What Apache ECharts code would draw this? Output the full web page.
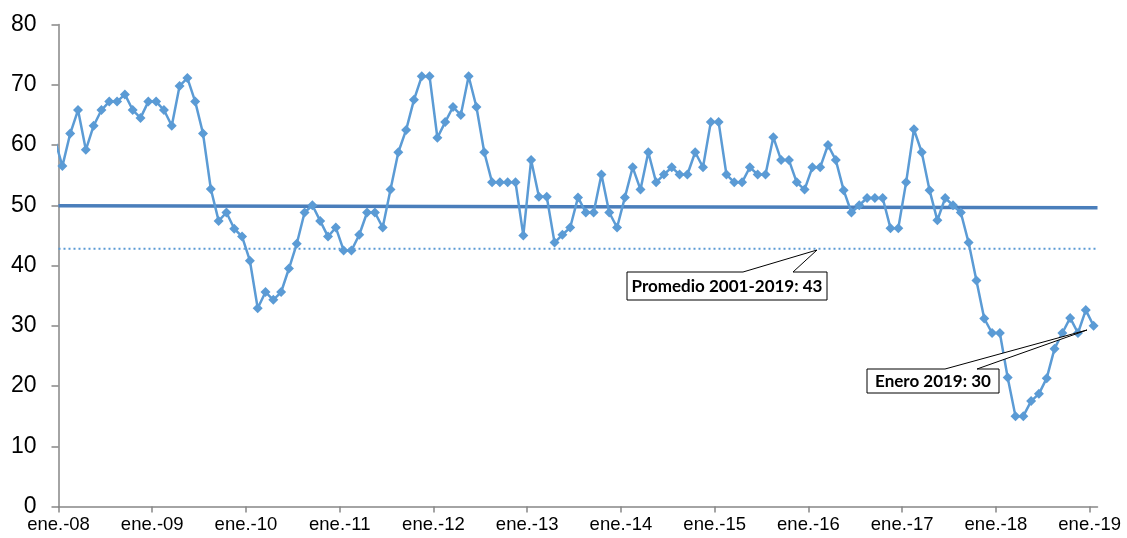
<!DOCTYPE html>
<html>
<head>
<meta charset="utf-8">
<script src="https://cdn.jsdelivr.net/npm/echarts@6/dist/echarts.min.js"></script>
<style>
  html, body { margin: 0; padding: 0; background: #fff; }
  #chart { width: 1127px; height: 538px; }
</style>
</head>
<body>
<div id="chart"></div>
<script>
// monthly values, ene.-08 .. ene.-19 (133 months)
var indexValues = [
  56.5, 61.9, 65.8, 59.2, 63.2, 65.8, 67.2, 67.2, 68.4, 65.8, 64.5, 67.2,
  67.2, 65.8, 63.2, 69.8, 71.1, 67.2, 61.9, 52.7, 47.4, 48.8, 46.1, 44.8,
  40.8, 32.9, 35.6, 34.3, 35.6, 39.5, 43.6, 48.8, 50.0, 47.4, 44.8, 46.3,
  42.5, 42.5, 45.1, 48.8, 48.8, 46.3, 52.6, 58.8, 62.5, 67.5, 71.4, 71.4,
  61.2, 63.8, 66.3, 65.0, 71.4, 66.3, 58.8, 53.8, 53.8, 53.8, 53.8, 45.0,
  57.5, 51.4, 51.4, 43.8, 45.1, 46.3, 51.3, 48.8, 48.8, 55.1, 48.8, 46.3,
  51.3, 56.3, 52.6, 58.8, 53.8, 55.1, 56.3, 55.1, 55.1, 58.8, 56.3, 63.8,
  63.8, 55.1, 53.8, 53.8, 56.3, 55.1, 55.1, 61.3, 57.5, 57.5, 53.8, 52.6,
  56.3, 56.3, 60.0, 57.5, 52.5, 48.8, 50.0, 51.2, 51.2, 51.2, 46.2, 46.2,
  53.8, 62.6, 58.8, 52.5, 47.5, 51.2, 50.0, 48.8, 43.8, 37.5, 31.2, 28.8,
  28.8, 21.4, 15.0, 15.0, 17.5, 18.7, 21.3, 26.2, 28.8, 31.3, 28.8, 32.6,
  30.0
];
// dic.-07, only the segment into the plot is visible
var prevValue = 61.0;
var tickLabels = ['ene.-08', 'ene.-09', 'ene.-10', 'ene.-11', 'ene.-12', 'ene.-13',
  'ene.-14', 'ene.-15', 'ene.-16', 'ene.-17', 'ene.-18', 'ene.-19'];
var trendValues = [49.9, 49.6];
var averageValue = 42.8;
var averageText = 'Promedio 2001-2019: 43';
var lastText = 'Enero 2019: 30';

var nMonths = indexValues.length;
var seriesData = [[-0.5, prevValue]];
for (var i = 0; i < nMonths; i++) {
  seriesData.push([i + 0.5, indexValues[i]]);
}
var tickValues = [];
for (var k = 0; k < tickLabels.length; k++) tickValues.push(k * 12);

var chart = echarts.init(document.getElementById('chart'), null, { renderer: 'canvas' });

function callout(box, base, tip, text) {
  // box: [x, y, w, h]; base: [x1, x2] on top edge; tip: [x, y]
  var x = box[0], y = box[1], w = box[2], h = box[3];
  return [
    {
      type: 'polygon', z: 100,
      shape: { points: [[x, y], [base[0], y], tip, [base[1], y], [x + w, y], [x + w, y + h], [x, y + h]] },
      style: { fill: '#fff', stroke: '#000', lineWidth: 1 }
    },
    {
      type: 'text', z: 101,
      x: x + w / 2, y: y + h / 2 + 1,
      style: {
        text: text, fill: '#000', align: 'center', verticalAlign: 'middle',
        font: 'bold 17px Lato, "Open Sans", sans-serif'
      }
    }
  ];
}

var option = {
  animation: false,
  backgroundColor: '#fff',
  grid: { left: 58.5, right: 29.5, top: 24.5, bottom: 31.5, containLabel: false },
  xAxis: {
    type: 'value',
    min: 0,
    max: nMonths,
    splitLine: { show: false },
    axisLine: { onZero: false, lineStyle: { color: '#868686', width: 1.5 } },
    axisTick: { length: 6, lineStyle: { color: '#868686', width: 1.5 }, customValues: tickValues },
    axisLabel: {
      customValues: tickValues,
      margin: 9,
      color: '#000',
      fontFamily: '"Liberation Sans", Arial, sans-serif',
      fontSize: 18.5,
      formatter: function (v) { return tickLabels[Math.round(v / 12)] || ''; }
    }
  },
  yAxis: {
    type: 'value',
    min: 0,
    max: 80,
    interval: 10,
    splitLine: { show: false },
    axisLine: { show: true, lineStyle: { color: '#868686', width: 1.5 } },
    axisTick: { show: true, length: 7, lineStyle: { color: '#868686', width: 1.5 } },
    axisLabel: {
      margin: 22,
      color: '#000',
      fontFamily: '"Liberation Sans", Arial, sans-serif',
      fontSize: 23
    }
  },
  series: [
    {
      name: 'promedio',
      type: 'line',
      data: [[0, averageValue], [nMonths, averageValue]],
      symbol: 'none',
      silent: true,
      lineStyle: { color: '#5B9BD5', width: 2, type: [2, 3] },
      z: 1
    },
    {
      name: 'tendencia',
      type: 'line',
      data: [[0, trendValues[0]], [nMonths, trendValues[1]]],
      symbol: 'none',
      silent: true,
      lineStyle: { color: '#4A7EBB', width: 3.5 },
      z: 2
    },
    {
      name: 'indice',
      type: 'line',
      data: seriesData,
      clip: true,
      symbol: 'diamond',
      symbolSize: 10,
      showAllSymbol: true,
      itemStyle: { color: '#5B9BD5' },
      lineStyle: { color: '#5B9BD5', width: 2.5 },
      z: 3
    }
  ]
};
chart.setOption(option);

var g = [];
g = g.concat(callout([627, 272, 200, 28], [743, 793], [817, 250], averageText));
g = g.concat(callout([867, 369, 132, 24], [945, 977], [1087, 330], lastText));
chart.setOption({ graphic: { elements: g } });
</script>
</body>
</html>
